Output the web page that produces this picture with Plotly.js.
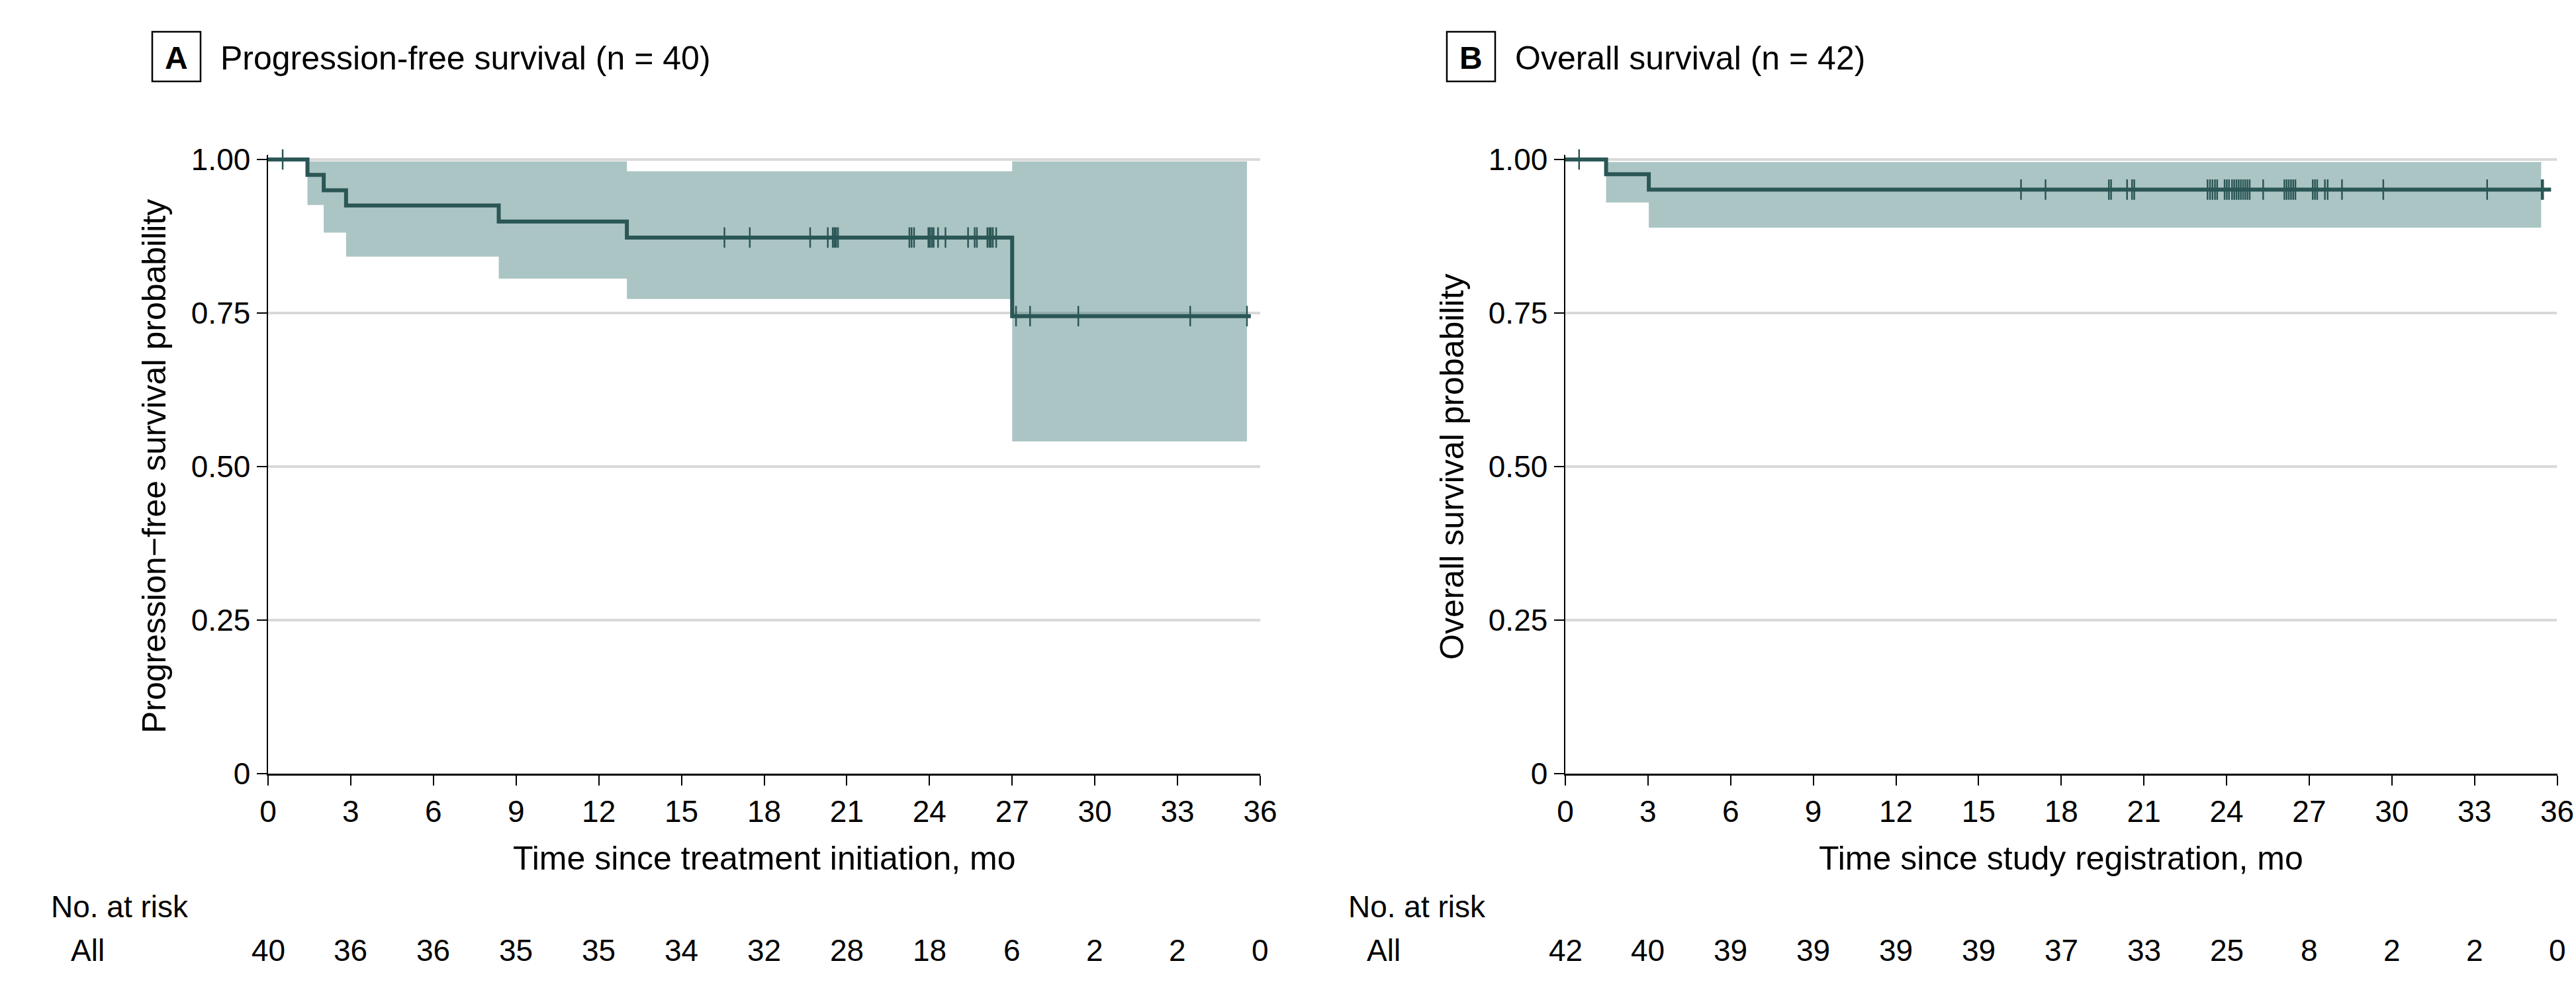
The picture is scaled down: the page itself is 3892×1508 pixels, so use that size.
<!DOCTYPE html>
<html>
<head>
<meta charset="utf-8">
<script src="https://cdn.plot.ly/plotly-3.0.1.min.js"></script>
<style>html,body{margin:0;padding:0;background:#fff;}#chart{width:3892px;height:1508px;}</style>
</head>
<body>
<div id="chart"></div>
<script>
// ---------- data ----------
const riskTimes = [0, 3, 6, 9, 12, 15, 18, 21, 24, 27, 30, 33, 36];
const pfsRisk = [40, 36, 36, 35, 35, 34, 32, 28, 18, 6, 2, 2, 0];
const osRisk  = [42, 40, 39, 39, 39, 39, 37, 33, 25, 8, 2, 2, 0];

const yTickVals = [0, 0.25, 0.5, 0.75, 1];
const yTickText = ['0', '0.25', '0.50', '0.75', '1.00'];

// Panel A: progression-free survival (step curve)
const pfsTime = [0, 1.43, 2.02, 2.83, 8.37, 13.02, 27.0, 35.66];
const pfsSurv = [1.0, 0.975, 0.95, 0.925, 0.899, 0.873, 0.745, 0.745];
const pfsBandTime = [0, 1.43, 2.02, 2.83, 8.37, 13.02, 27.0, 35.52];
const pfsUpper = [1.0, 0.997, 0.997, 0.997, 0.997, 0.981, 0.997, 0.997];
const pfsLower = [1.0, 0.926, 0.881, 0.842, 0.806, 0.773, 0.541, 0.541];
const pfsCensorTime = [0.53, 16.56, 17.48, 19.67, 20.31, 20.49, 20.55, 20.61, 20.68,
  23.27, 23.35, 23.44, 23.96, 24.02, 24.09, 24.15, 24.31, 24.58, 25.40, 25.64, 25.72,
  26.10, 26.17, 26.23, 26.30, 26.42, 27.14, 27.65, 29.40, 33.46, 35.52];

// Panel B: overall survival (step curve)
const osTime = [0, 1.48, 3.03, 35.78];
const osSurv = [1.0, 0.976, 0.951, 0.951];
const osBandTime = [0, 1.48, 3.03, 35.42];
const osUpper = [1.0, 0.996, 0.996, 0.996];
const osLower = [1.0, 0.930, 0.889, 0.889];
const osCensorTime = [0.50, 16.54, 17.43, 19.73, 19.81, 20.39, 20.57, 20.65,
  23.31, 23.40, 23.49, 23.58, 23.66, 23.93, 24.01, 24.09, 24.20, 24.28, 24.36, 24.44,
  24.52, 24.60, 24.68, 24.76, 24.84, 25.33, 26.10, 26.18, 26.26, 26.34, 26.42, 26.50,
  27.13, 27.21, 27.29, 27.57, 27.67, 28.19, 29.69, 33.46, 35.44, 35.49];

// ---------- styling ----------
const W = 3892, H = 1508;
const FONT = '"Liberation Sans", Arial, sans-serif';
const LINE = '#2b5656';
const FILL = 'rgba(45,110,108,0.4)';
const GRID = '#d9d9d9';
const px = v => v / W;
const py = v => 1 - v / H;

// KM value at a time (step lookup on the curve arrays)
function stepAt(times, surv, t) {
  let s = surv[0];
  for (let i = 0; i < times.length; i++) { if (times[i] <= t) s = surv[i]; }
  return s;
}

function panelTraces(xa, ya, bt, up, lo, tt, sv, ct) {
  return [
    {x: bt, y: up, xaxis: xa, yaxis: ya, type: 'scatter', mode: 'lines',
     line: {shape: 'hv', width: 0, color: 'rgba(0,0,0,0)'}, hoverinfo: 'skip', showlegend: false},
    {x: bt, y: lo, xaxis: xa, yaxis: ya, type: 'scatter', mode: 'lines', fill: 'tonexty',
     fillcolor: FILL, line: {shape: 'hv', width: 0, color: 'rgba(0,0,0,0)'}, hoverinfo: 'skip', showlegend: false},
    {x: tt, y: sv, xaxis: xa, yaxis: ya, type: 'scatter', mode: 'lines',
     line: {shape: 'hv', width: 6, color: LINE}, showlegend: false},
    {x: ct, y: ct.map(t => stepAt(tt, sv, t)), xaxis: xa, yaxis: ya, type: 'scatter', mode: 'markers',
     cliponaxis: false,
     marker: {symbol: 'line-ns', size: 22, line: {width: 2.5, color: LINE}, color: LINE}, showlegend: false}
  ];
}

const traces = [
  ...panelTraces('x', 'y', pfsBandTime, pfsUpper, pfsLower, pfsTime, pfsSurv, pfsCensorTime),
  ...panelTraces('x2', 'y2', osBandTime, osUpper, osLower, osTime, osSurv, osCensorTime)
];

const yDomain = [1 - 1169 / H, 1 - 233.6 / H];
function xAxis(domain, anchor) {
  return {domain: domain, anchor: anchor, range: [0, 36], tickmode: 'array', tickvals: riskTimes,
    ticktext: riskTimes.map(String), ticks: 'outside', ticklen: 15, tickwidth: 2, tickcolor: '#000',
    showline: true, linecolor: '#000', linewidth: 2.5, showgrid: false, zeroline: false,
    tickfont: {family: FONT, size: 46, color: '#000'}, fixedrange: true};
}
function yAxis(anchor) {
  return {domain: yDomain, anchor: anchor, range: [0, 1.008], tickmode: 'array', tickvals: yTickVals,
    ticktext: yTickText, ticks: 'outside', ticklen: 15, tickwidth: 2, tickcolor: '#000',
    showline: true, linecolor: '#000', linewidth: 2.5, showgrid: false, zeroline: false,
    tickfont: {family: FONT, size: 46, color: '#000'}, fixedrange: true};
}

const shapes = [];
[['x', 'y'], ['x2', 'y2']].forEach(([xr, yr]) => {
  yTickVals.filter(v => v > 0).forEach(v => {
    shapes.push({type: 'line', xref: xr, yref: yr, x0: 0, x1: 36, y0: v, y1: v,
      line: {color: GRID, width: 4}, layer: 'below'});
  });
});
// panel letter boxes
shapes.push({type: 'rect', xref: 'paper', yref: 'paper', x0: px(230), x1: px(303), y0: py(123), y1: py(48),
  line: {color: '#000', width: 2.5}, fillcolor: 'rgba(0,0,0,0)'});
shapes.push({type: 'rect', xref: 'paper', yref: 'paper', x0: px(2186), x1: px(2259), y0: py(123), y1: py(48),
  line: {color: '#000', width: 2.5}, fillcolor: 'rgba(0,0,0,0)'});

const ann = [];
function txt(text, x, y, size, opts) {
  ann.push(Object.assign({text: text, x: px(x), y: py(y), xref: 'paper', yref: 'paper', showarrow: false,
    font: {family: FONT, size: size, color: '#000'}, xanchor: 'left', yanchor: 'middle'}, opts || {}));
}
// titles
txt('<b>A</b>', 266.5, 88, 48, {xanchor: 'center'});
txt('Progression-free survival (n = 40)', 331, 88, 50);
txt('<b>B</b>', 2222.5, 88, 48, {xanchor: 'center'});
txt('Overall survival (n = 42)', 2287, 88, 50);
// axis titles
txt('Progression\u2212free survival probability', 233, 705, 50, {xanchor: 'center', textangle: -90});
txt('Overall survival probability', 2194, 705, 50, {xanchor: 'center', textangle: -90});
txt('Time since treatment initiation, mo', 1154.5, 1297, 50, {xanchor: 'center'});
txt('Time since study registration, mo', 3114, 1297, 50, {xanchor: 'center'});
// risk tables
txt('No. at risk', 75, 1370, 46);
txt('All', 105, 1436, 46);
txt('No. at risk', 2035, 1370, 46);
txt('All', 2063, 1436, 46);
riskTimes.forEach((t, i) => {
  ann.push({text: String(pfsRisk[i]), x: t, xref: 'x', y: py(1436), yref: 'paper', showarrow: false,
    xanchor: 'center', yanchor: 'middle', font: {family: FONT, size: 46, color: '#000'}});
  ann.push({text: String(osRisk[i]), x: t, xref: 'x2', y: py(1436), yref: 'paper', showarrow: false,
    xanchor: 'center', yanchor: 'middle', font: {family: FONT, size: 46, color: '#000'}});
});

const layout = {
  width: W, height: H, margin: {l: 0, r: 0, t: 0, b: 0},
  paper_bgcolor: '#fff', plot_bgcolor: '#fff', showlegend: false,
  font: {family: FONT, color: '#000'},
  xaxis: xAxis([px(405), px(1904)], 'y'),
  yaxis: yAxis('x'),
  xaxis2: xAxis([px(2365), px(3863.5)], 'y2'),
  yaxis2: yAxis('x2'),
  shapes: shapes,
  annotations: ann
};

Plotly.newPlot('chart', traces, layout, {staticPlot: true, displayModeBar: false});
</script>
</body>
</html>
